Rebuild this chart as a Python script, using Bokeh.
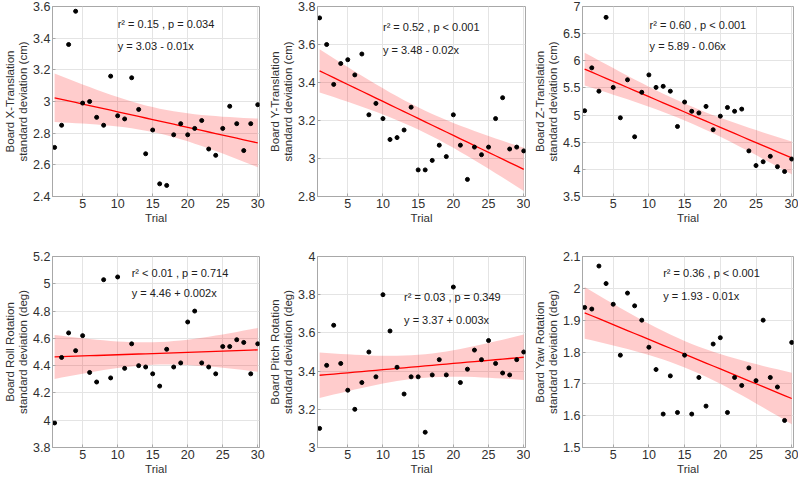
import numpy as np
from bokeh.plotting import figure
from bokeh.layouts import column, row
from bokeh.models import FixedTicker, CustomJSTickFormatter, Range1d
from bokeh.core.properties import value
from bokeh.embed import file_html
from bokeh.resources import INLINE

# ---------------- data ----------------
trial = list(range(1, 31))

x_translation = [2.71, 2.85, 3.36, 3.57, 2.99, 3.00, 2.90, 2.85, 3.16, 2.91,
                 2.89, 3.15, 2.95, 2.67, 2.82, 2.48, 2.47, 2.79, 2.86, 2.79,
                 2.83, 2.88, 2.70, 2.66, 2.83, 2.97, 2.86, 2.69, 2.86, 2.98]
y_translation = [3.74, 3.60, 3.39, 3.50, 3.52, 3.44, 3.55, 3.23, 3.29, 3.21,
                 3.10, 3.11, 3.15, 3.27, 2.94, 2.94, 2.99, 3.07, 3.01, 3.23,
                 3.07, 2.89, 3.06, 3.02, 3.06, 3.21, 3.32, 3.05, 3.06, 3.04]
z_translation = [5.08, 5.87, 5.44, 6.80, 5.51, 4.95, 5.65, 4.60, 5.42, 5.74,
                 5.51, 5.53, 5.44, 4.79, 5.24, 5.07, 5.04, 5.16, 4.73, 4.98,
                 5.14, 5.07, 5.11, 4.34, 4.07, 4.14, 4.24, 4.05, 3.96, 4.19]
roll_rotation = [3.98, 4.46, 4.64, 4.51, 4.62, 4.35, 4.28, 5.03, 4.31, 5.05,
                 4.38, 4.56, 4.40, 4.39, 4.34, 4.25, 4.52, 4.39, 4.42, 4.72,
                 4.80, 4.42, 4.39, 4.34, 4.54, 4.54, 4.59, 4.57, 4.34, 4.56]
pitch_rotation = [3.10, 3.43, 3.64, 3.44, 3.30, 3.20, 3.34, 3.50, 3.37, 3.80,
                  3.61, 3.42, 3.28, 3.37, 3.37, 3.08, 3.38, 3.46, 3.38, 3.84,
                  3.34, 3.41, 3.51, 3.46, 3.56, 3.44, 3.39, 3.38, 3.46, 3.50]
yaw_rotation = [1.94, 1.935, 2.07, 2.015, 1.95, 1.79, 1.985, 1.945, 1.90, 1.815,
                1.745, 1.605, 1.725, 1.61, 1.79, 1.605, 1.72, 1.63, 1.825, 1.845,
                1.61, 1.72, 1.695, 1.75, 1.71, 1.90, 1.72, 1.69, 1.585, 1.83]

y_labels = ["Board X-Translation\nstandard deviation (cm)",
            "Board Y-Translation\nstandard deviation (cm)",
            "Board Z-Translation\nstandard deviation (cm)",
            "Board Roll Rotation\nstandard deviation (deg)",
            "Board Pitch Rotation\nstandard deviation (deg)",
            "Board Yaw Rotation\nstandard deviation (deg)"]
stat_texts = ["r\u00b2 = 0.15 , p = 0.034", "r\u00b2 = 0.52 , p < 0.001",
              "r\u00b2 = 0.60 , p < 0.001", "r\u00b2 < 0.01 , p = 0.714",
              "r\u00b2 = 0.03 , p = 0.349", "r\u00b2 = 0.36 , p < 0.001"]
eq_texts = ["y = 3.03 - 0.01x", "y = 3.48 - 0.02x", "y = 5.89 - 0.06x",
            "y = 4.46 + 0.002x", "y = 3.37 + 0.003x", "y = 1.93 - 0.01x"]
x_ticks = [5, 10, 15, 20, 25, 30]
y_ticks = [[2.4, 2.6, 2.8, 3.0, 3.2, 3.4, 3.6],
           [2.8, 3.0, 3.2, 3.4, 3.6, 3.8],
           [3.5, 4.0, 4.5, 5.0, 5.5, 6.0, 6.5, 7.0],
           [3.8, 4.0, 4.2, 4.4, 4.6, 4.8, 5.0, 5.2],
           [3.0, 3.2, 3.4, 3.6, 3.8, 4.0],
           [1.5, 1.6, 1.7, 1.8, 1.9, 2.0, 2.1]]
series = [x_translation, y_translation, z_translation,
          roll_rotation, pitch_rotation, yaw_rotation]

# ---------------- layout / style config ----------------
FONT = "Liberation Sans"
T975 = 2.048  # t quantile, df = 28
col_cfg = [(265, 6), (265, 5), (268, 5)]          # (width, min_border_right)
row_cfg = [(240, 6, 44), (239, 16, 32)]           # (height, top, bottom)
ann_pos = [(10, 3.49, 3.35), (10, 3.69, 3.57), (10.1, 6.66, 6.28),
           (12, 5.08, 4.93), (13, 3.79, 3.67), (12, 2.047, 1.975)]

fmt = CustomJSTickFormatter(code="return String(Number(tick.toFixed(3)));")

figs = []
for i in range(6):
    r, c = divmod(i, 3)
    w, br = col_cfg[c]
    h, bt, bb = row_cfg[r]
    yt = y_ticks[i]
    p = figure(width=w, height=h, output_backend="svg", toolbar_location=None,
               x_range=Range1d(0.7, 30.25), y_range=Range1d(yt[0], yt[-1]),
               min_border_left=49, min_border_right=br,
               min_border_top=bt, min_border_bottom=bb,
               background_fill_color="white", border_fill_color="white")
    p.outline_line_color = "#a8a8a8"
    p.outline_line_width = 1

    x = np.array(trial, dtype=float)
    y = np.array(series[i], dtype=float)
    n = len(x)
    b1, b0 = np.polyfit(x, y, 1)
    fit = b0 + b1 * x
    s = np.sqrt(np.sum((y - fit) ** 2) / (n - 2))
    sxx = np.sum((x - x.mean()) ** 2)
    se = s * np.sqrt(1.0 / n + (x - x.mean()) ** 2 / sxx)

    p.varea(x=x, y1=fit - T975 * se, y2=fit + T975 * se,
            fill_color="#ff0000", fill_alpha=0.2)
    p.line(x=x, y=fit, line_color="#ff0000", line_width=1.3)
    p.scatter(x=x, y=y, size=4, fill_color="black", line_color="black")

    ax, ys, ye = ann_pos[i]
    p.text(x=[ax, ax], y=[ys, ye], text=[stat_texts[i], eq_texts[i]],
           text_font=value(FONT), text_font_size="11px", text_color="#202020",
           text_baseline="middle", text_align="left")

    p.xaxis.ticker = FixedTicker(ticks=x_ticks)
    p.yaxis.ticker = FixedTicker(ticks=yt)
    p.yaxis.formatter = fmt
    p.xaxis.axis_label = "Trial"
    p.yaxis.axis_label = y_labels[i]
    for ax_ in (p.xaxis[0], p.yaxis[0]):
        ax_.axis_line_color = "#a8a8a8"
        ax_.major_tick_line_color = "#a8a8a8"
        ax_.major_tick_in = 3
        ax_.major_tick_out = 0
        ax_.minor_tick_line_color = None
        ax_.major_label_text_font = FONT
        ax_.major_label_text_font_size = "12.5px"
        ax_.major_label_text_color = "#303030"
        ax_.axis_label_text_font = FONT
        ax_.axis_label_text_font_size = "11.5px"
        ax_.axis_label_text_font_style = "normal"
        ax_.axis_label_text_color = "#303030"
        ax_.axis_label_text_line_height = 1.1
        ax_.major_label_standoff = 2
        ax_.axis_label_standoff = 1
    p.xgrid.grid_line_color = "#e4e4e4"
    p.ygrid.grid_line_color = "#e4e4e4"
    p.xgrid.ticker = FixedTicker(ticks=x_ticks)
    p.ygrid.ticker = FixedTicker(ticks=yt)
    figs.append(p)

layout = column(row(*figs[:3], spacing=0), row(*figs[3:], spacing=0), spacing=0)
open("out.html", "w").write(file_html(layout, INLINE))
